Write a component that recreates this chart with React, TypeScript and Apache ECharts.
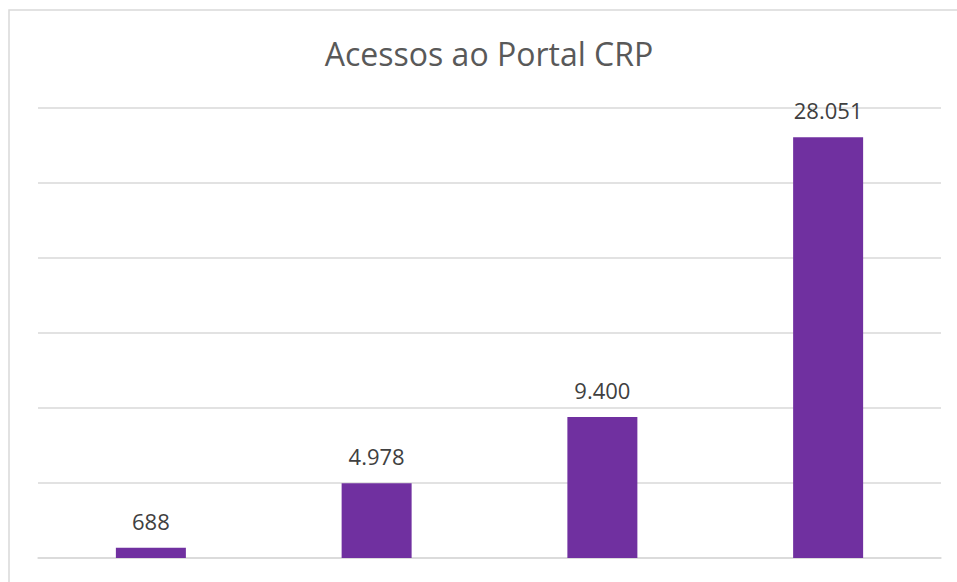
import React, { useEffect, useRef } from "react";
import * as echarts from "echarts";

const categories = ["A", "B", "C", "D"];
const values = [688, 4978, 9400, 28051];
const title = "Acessos ao Portal CRP";

function fmt(n: number): string {
  return String(n).replace(/\B(?=(\d{3})+(?!\d))/g, ".");
}

export default function App() {
  const ref = useRef<HTMLDivElement>(null);
  useEffect(() => {
    document.body.style.margin = "0";
    const chart = echarts.init(ref.current!, null, { renderer: "svg" });
    chart.setOption({
      animation: false,
      backgroundColor: "#ffffff",
      title: {
        text: title,
        left: 484,
        textAlign: "center",
        top: 32,
        textStyle: {
          fontFamily: "Open Sans",
          fontWeight: "normal",
          fontSize: 32,
          color: "#595959",
        },
      },
      graphic: [
        {
          type: "rect",
          shape: { x: 9, y: 10, width: 1000, height: 700 },
          style: { fill: "none", stroke: "#d9d9d9", lineWidth: 1.5 },
          silent: true,
          z: -1,
        },
      ],
      grid: { left: 38, right: 16, top: 108, bottom: 24 },
      xAxis: {
        type: "category",
        data: categories,
        axisLine: { show: true, lineStyle: { color: "#d9d9d9", width: 1.5 } },
        axisTick: { show: false },
        axisLabel: { show: false },
      },
      yAxis: {
        type: "value",
        min: 0,
        max: 30000,
        interval: 5000,
        axisLabel: { show: false },
        axisLine: { show: false },
        axisTick: { show: false },
        splitLine: { lineStyle: { color: "#d9d9d9", width: 1.5 } },
      },
      series: [
        {
          type: "bar",
          data: values,
          barWidth: 70,
          itemStyle: { color: "#7030a0" },
          label: {
            show: true,
            position: "top",
            distance: 16,
            fontFamily: "Open Sans",
            fontSize: 22,
            color: "#404040",
            formatter: (p: any) => fmt(p.value),
          },
        },
      ],
    });
    return () => chart.dispose();
  }, []);
  return (
    <div
      ref={ref}
      style={{ position: "absolute", left: 0, top: 0, width: 957, height: 582 }}
    />
  );
}
